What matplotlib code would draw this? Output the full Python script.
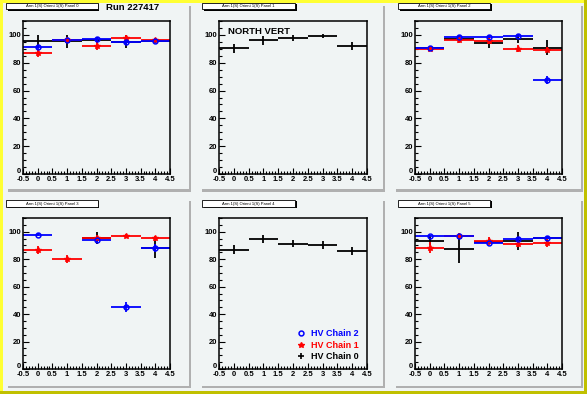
import numpy as np
import matplotlib.pyplot as plt
from matplotlib.patches import Rectangle
from matplotlib.lines import Line2D
from matplotlib.ticker import MultipleLocator
from matplotlib.transforms import ScaledTranslation

###############################################################################
# Data
###############################################################################
nan = np.nan
bins = [0, 1, 2, 3, 4]
panels = ['Panel 0', 'Panel 1', 'Panel 2', 'Panel 3', 'Panel 4', 'Panel 5']

chain0 = [
    [95.4, 95.4, 96.5, 95.2, 95.5],
    [90.3, 96.1, 97.6, 99.5, 91.8],
    [90.6, 97.3, 94.5, 97.3, 90.8],
    [nan, nan, 95.6, nan, 87.8],
    [86.8, 94.9, 91.2, 90.5, 86.1],
    [93.4, 87.6, 92.7, 93.4, 95.6],
]
chain0_err = [
    [4.8, 4.5, 2.0, 4.5, 1.5],
    [3.0, 3.0, 2.0, 1.5, 3.0],
    [1.5, 1.5, 4.0, 3.0, 5.5],
    [0.0, 0.0, 4.5, 0.0, 7.0],
    [3.3, 3.0, 2.5, 3.0, 3.0],
    [3.0, 10.5, 2.0, 6.5, 1.5],
]
chain1 = [
    [86.8, 96.2, 91.8, 97.6, 96.2],
    [nan, nan, nan, nan, nan],
    [90.1, 96.1, 95.7, 90.1, 89.4],
    [86.8, 80.2, 95.6, 97.1, 95.1],
    [nan, nan, nan, nan, nan],
    [88.3, 97.1, 93.4, 91.2, 92.0],
]
chain1_err = [
    [3.0, 2.0, 3.0, 2.0, 1.5],
    [0, 0, 0, 0, 0],
    [2.0, 2.0, 2.0, 2.5, 2.0],
    [3.0, 3.0, 2.0, 1.5, 1.5],
    [0, 0, 0, 0, 0],
    [4.0, 2.0, 3.0, 2.0, 3.0],
]
chain2 = [
    [91.1, 96.2, 96.9, 95.2, 95.4],
    [nan, nan, nan, nan, nan],
    [90.6, 98.6, 98.6, 99.5, 67.7],
    [97.8, nan, 94.1, 45.1, 88.3],
    [nan, nan, nan, nan, nan],
    [96.8, 97.1, 91.7, 94.9, 95.6],
]
chain2_err = [
    [1.5, 1.5, 1.0, 1.5, 1.0],
    [0, 0, 0, 0, 0],
    [1.0, 1.0, 1.0, 1.0, 3.0],
    [1.0, 0.0, 2.0, 3.5, 3.0],
    [0, 0, 0, 0, 0],
    [1.0, 1.0, 1.0, 1.5, 1.0],
]

###############################################################################
# Style
###############################################################################
W, H = 587., 394.
BKG = '#f0f4f4'
SHD = '#b0b0b0'
FNT = 'Liberation Sans'


def fx(x):
    return x / W


def fy(y):
    return 1 - y / H


def rect(fig, x0, y0, x1, y1, **kw):
    fig.patches.append(Rectangle(
        (fx(x0), fy(y1)), fx(x1) - fx(x0), fy(y0) - fy(y1),
        transform=fig.transFigure, figure=fig, **kw
    ))


fig = plt.figure(figsize=(W / 100, H / 100), dpi=100, facecolor=BKG)

# canvas border
rect(fig, 0, 0, W, 3, fc='#ffff33', ec='none')
rect(fig, 0, 0, 3, H, fc='#ffff33', ec='none')
rect(fig, 0, H - 3, W, H, fc='#c0c000', ec='none')
rect(fig, W - 3, 0, W, H, fc='#c0c000', ec='none')

padx = [(5, 191), (199, 385), (393, 583)]
pady = [(3, 192), (198, 388)]
axx = [(23, 170), (219, 367), (415, 562)]
axy = [(21, 174), (218, 369)]
titlex = [(6, 98), (202, 295), (398, 490)]
titley = [(3, 9), (200, 207)]

###############################################################################
# Pads
###############################################################################
for i in range(6):
    (r, c) = divmod(i, 3)
    (px0, px1), (py0, py1) = padx[c], pady[r]
    # pad shadows
    rect(fig, px1 - 2.5, py0 + 3, px1, py1, fc=SHD, ec='none')
    rect(fig, px0 + 3, py1 - 2.5, px1, py1, fc=SHD, ec='none')
    # title box
    (tx0, tx1), (ty0, ty1) = titlex[c], titley[r]
    rect(fig, tx0 + 1.5, ty0 + 1.5, tx1 + 1.5, ty1 + 1.5, fc='k', ec='none')
    rect(fig, tx0, ty0, tx1, ty1, fc='white', ec='k', lw=0.6)
    fig.text(fx((tx0 + tx1) / 2), fy((ty0 + ty1) / 2),
             'Arm 1(S) Orient 1(S) ' + panels[i],
             fontsize=3, ha='center', va='center', family=FNT)

    (ax0, ax1), (ay0, ay1) = axx[c], axy[r]
    ax = fig.add_axes([fx(ax0), fy(ay1), fx(ax1) - fx(ax0), fy(ay0) - fy(ay1)])
    ax.set_facecolor(BKG)
    for s in ax.spines.values():
        s.set_linewidth(1.1)
    ax.set_xlim(-0.5, 4.5)
    ax.set_ylim(0, 110)
    ax.xaxis.set_minor_locator(MultipleLocator(0.1))
    ax.set_yticks(np.arange(0, 101, 20))
    ax.yaxis.set_minor_locator(MultipleLocator(5))
    ax.set_xticks(np.arange(-0.5, 4.6, 0.5))
    ax.set_xticklabels(['-0.5', '0', '0.5', '1', '1.5', '2', '2.5',
                        '3', '3.5', '4', '4.5'])
    ax.tick_params(which='both', direction='in', top=False, right=False,
                   width=0.8, labelsize=5.5, pad=1.5)
    ax.tick_params(which='major', length=4)
    ax.tick_params(which='minor', length=2)
    for lb in ax.get_xticklabels() + ax.get_yticklabels():
        lb.set_fontweight('bold')
        lb.set_family(FNT)
    # lift the y "0" a touch so it sits just above "-0.5"
    lb0 = ax.get_yticklabels()[0]
    lb0.set_transform(lb0.get_transform() +
                      ScaledTranslation(0, 2.5 / 72, fig.dpi_scale_trans))

    ax.errorbar(bins, chain0[i], xerr=0.5, yerr=chain0_err[i], fmt='none',
                ecolor='k', elinewidth=1.3, capsize=0)
    ax.errorbar(bins, chain1[i], xerr=0.5, yerr=chain1_err[i], fmt='*',
                color='red', ecolor='red', elinewidth=1.3, capsize=0, ms=4)
    ax.errorbar(bins, chain2[i], xerr=0.5, yerr=chain2_err[i], fmt='o',
                color='blue', mfc='none', mec='blue', mew=1.1,
                ecolor='blue', elinewidth=1.3, capsize=0, ms=3.5)

    if i == 0:
        fig.text(fx(106), fy(8), 'Run 227417', fontsize=6.8,
                 fontweight='bold', family=FNT, va='center')
    if i == 1:
        ax.text(0.06, 0.93, 'NORTH VERT', transform=ax.transAxes,
                fontsize=6.8, fontweight='bold', family=FNT, va='center')
    if i == 4:
        handles = [
            Line2D([], [], ls='none', marker='o', mfc='none', mec='blue',
                   mew=1.1, ms=3.5),
            Line2D([], [], ls='none', marker='*', color='red', ms=4),
            Line2D([], [], ls='none', marker='+', color='k', mew=1.2, ms=5),
        ]
        ax.legend(handles, ['HV Chain 2', 'HV Chain 1', 'HV Chain 0'],
                  loc='lower left', bbox_to_anchor=(0.49, 0.02),
                  frameon=False, handlelength=1.1, handletextpad=0.6,
                  labelspacing=0.3, borderpad=0,
                  labelcolor=['blue', 'red', 'black'],
                  prop={'family': FNT, 'weight': 'bold', 'size': 6.5})

fig.savefig('out.png', dpi=100, facecolor=BKG)
